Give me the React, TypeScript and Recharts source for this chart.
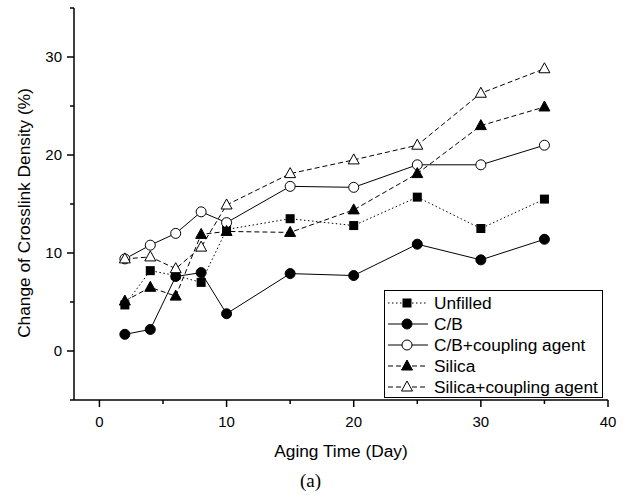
import React from "react";
import { LineChart, Line, XAxis, YAxis } from "recharts";

const days = [2, 4, 6, 8, 10, 15, 20, 25, 30, 35];
const unfilled = [4.7, 8.2, 7.7, 7.0, 12.4, 13.5, 12.8, 15.7, 12.5, 15.5];
const cb = [1.7, 2.2, 7.6, 8.0, 3.8, 7.9, 7.7, 10.9, 9.3, 11.4];
const cbCoupling = [9.4, 10.8, 12.0, 14.2, 13.1, 16.8, 16.7, 19.0, 19.0, 21.0];
const silica = [5.1, 6.5, 5.6, 11.9, 12.2, 12.1, 14.4, 18.1, 23.0, 24.9];
const silicaCoupling = [9.4, 9.6, 8.4, 10.6, 14.9, 18.1, 19.5, 21.0, 26.3, 28.8];

const xTicks = [0, 5, 10, 15, 20, 25, 30, 35, 40];
const yTicks = [-5, 0, 5, 10, 15, 20, 25, 30, 35];

const data = days.map((day, i) => ({
  day,
  unfilled: unfilled[i],
  cb: cb[i],
  cbCoupling: cbCoupling[i],
  silica: silica[i],
  silicaCoupling: silicaCoupling[i],
}));

const series = [
  { key: "unfilled", name: "Unfilled", shape: "square", filled: true, dash: "1.5 2.5" },
  { key: "cb", name: "C/B", shape: "circle", filled: true, dash: undefined },
  { key: "cbCoupling", name: "C/B+coupling agent", shape: "circle", filled: false, dash: undefined },
  { key: "silica", name: "Silica", shape: "triangle", filled: true, dash: "5 3" },
  { key: "silicaCoupling", name: "Silica+coupling agent", shape: "triangle", filled: false, dash: "5 3" },
];

const FONT = "'Liberation Sans', Arial, sans-serif";

const Marker = ({ cx, cy, shape, filled }: any) => {
  const fill = filled ? "#000" : "#fff";
  if (shape === "square") {
    return <rect x={cx - 4.5} y={cy - 4.5} width={9} height={9} fill="#000" />;
  }
  if (shape === "circle") {
    return <circle cx={cx} cy={cy} r={5} fill={fill} stroke="#000" strokeWidth={1} />;
  }
  return (
    <polygon
      points={`${cx},${cy - 6} ${cx - 5.5},${cy + 4} ${cx + 5.5},${cy + 4}`}
      fill={fill}
      stroke="#000"
      strokeWidth={1}
    />
  );
};

const BottomTick = ({ x, y, payload }: any) => {
  const major = payload.value % 10 === 0;
  return (
    <g>
      <line x1={x} x2={x} y1={y} y2={y + (major ? 7 : 4)} stroke="#000" strokeWidth={1.5} />
      {major && (
        <text x={x} y={y + 27} textAnchor="middle" fontSize={15} fontFamily={FONT} fill="#000">
          {payload.value}
        </text>
      )}
    </g>
  );
};

const LeftTick = ({ x, y, payload }: any) => {
  const major = payload.value % 10 === 0;
  return (
    <g>
      <line x1={x} x2={x - (major ? 7 : 4)} y1={y} y2={y} stroke="#000" strokeWidth={1.5} />
      {major && (
        <text x={x - 12} y={y + 5} textAnchor="end" fontSize={15} fontFamily={FONT} fill="#000">
          {payload.value}
        </text>
      )}
    </g>
  );
};

const TopTick = ({ x, y }: any) => (
  <line x1={x} x2={x} y1={y} y2={y - 3} stroke="#000" strokeWidth={1.5} />
);

const RightTick = ({ x, y }: any) => (
  <line x1={x} x2={x + 3} y1={y} y2={y} stroke="#000" strokeWidth={1.5} />
);

const LegendBox = () => (
  <div
    style={{
      position: "absolute",
      left: 384,
      top: 290,
      width: 219,
      height: 108,
      border: "1px solid #000",
      background: "#fff",
      boxSizing: "border-box",
    }}
  >
    <svg width={217} height={106} style={{ overflow: "visible" }}>
      {series.map((s, i) => {
        const cy = 12 + i * 21;
        return (
          <g key={s.key}>
            <line x1={3} x2={43} y1={cy} y2={cy} stroke="#000" strokeWidth={1} strokeDasharray={s.dash} />
            <Marker cx={22} cy={cy} shape={s.shape} filled={s.filled} />
            <text x={49} y={cy + 6} fontSize={17.3} fontFamily={FONT} fill="#000">
              {s.name}
            </text>
          </g>
        );
      })}
    </svg>
  </div>
);

export default function App() {
  return (
    <div style={{ position: "absolute", left: 0, top: 0, width: 626, height: 495, background: "#fff" }}>
      <LineChart width={626} height={495} data={data} margin={{ top: 8, right: 18, bottom: 0, left: 0 }}>
        <XAxis
          dataKey="day"
          type="number"
          domain={[-2, 40]}
          ticks={xTicks}
          interval={0}
          height={95}
          tickSize={0}
          tickMargin={0}
          tickLine={false}
          tick={<BottomTick />}
          axisLine={{ stroke: "#000", strokeWidth: 1.5 }}
          label={{
            content: () => (
              <text x={341} y={457} textAnchor="middle" fontSize={17.3} fontFamily={FONT} fill="#000">
                Aging Time (Day)
              </text>
            ),
          }}
        />
        <XAxis
          xAxisId="top"
          orientation="top"
          type="number"
          domain={[-2, 40]}
          ticks={xTicks}
          interval={0}
          height={0}
          tickSize={0}
          tickMargin={0}
          tickLine={false}
          tick={<TopTick />}
          axisLine={{ stroke: "#000", strokeWidth: 1.5 }}
        />
        <YAxis
          type="number"
          domain={[-5, 35]}
          ticks={yTicks}
          interval={0}
          width={74}
          tickSize={0}
          tickMargin={0}
          tickLine={false}
          tick={<LeftTick />}
          axisLine={{ stroke: "#000", strokeWidth: 1.5 }}
          label={{
            content: () => (
              <text
                x={25}
                y={213}
                transform="rotate(-90 25 213)"
                textAnchor="middle"
                dominantBaseline="middle"
                fontSize={17.3}
                fontFamily={FONT}
                fill="#000"
              >
                Change of Crosslink Density (%)
              </text>
            ),
          }}
        />
        <YAxis
          yAxisId="right"
          orientation="right"
          type="number"
          domain={[-5, 35]}
          ticks={yTicks}
          interval={0}
          width={0}
          tickSize={0}
          tickMargin={0}
          tickLine={false}
          tick={<RightTick />}
          axisLine={{ stroke: "#000", strokeWidth: 1.5 }}
        />
        {series.map((s) => (
          <Line
            key={s.key}
            dataKey={s.key}
            name={s.name}
            stroke="#000"
            strokeWidth={1}
            strokeDasharray={s.dash}
            isAnimationActive={false}
            dot={(p: any) => <Marker key={`${s.key}-${p.index}`} cx={p.cx} cy={p.cy} shape={s.shape} filled={s.filled} />}
            activeDot={false}
          />
        ))}
      </LineChart>
      <LegendBox />
      <div
        style={{
          position: "absolute",
          left: 300,
          top: 470,
          fontFamily: "'Liberation Serif', 'Times New Roman', serif",
          fontSize: 19,
        }}
      >
        (a)
      </div>
    </div>
  );
}
